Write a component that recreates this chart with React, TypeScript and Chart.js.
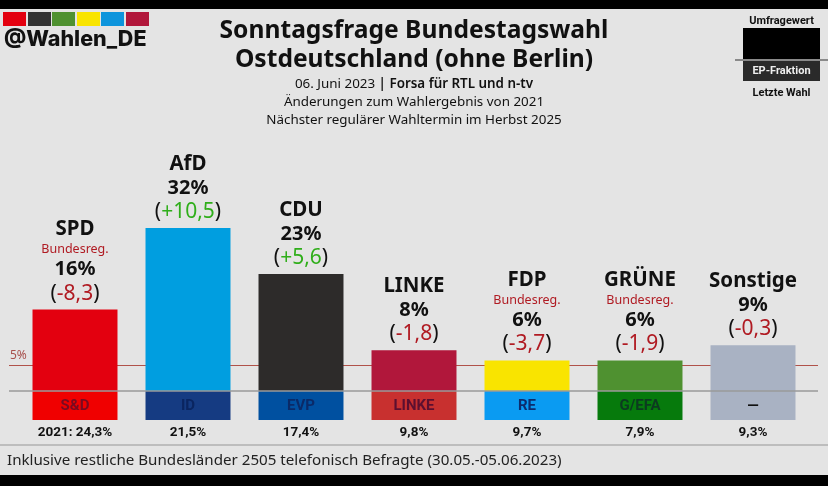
import { useEffect, useRef } from 'react';
import { Chart, registerables } from 'chart.js';
import type { Plugin } from 'chart.js';

Chart.register(...registerables);

const parties = ['SPD', 'AfD', 'CDU', 'LINKE', 'FDP', 'GRÜNE', 'Sonstige'];
const pollValues = [16, 32, 23, 8, 6, 6, 9];
const changes = ['-8,3', '+10,5', '+5,6', '-1,8', '-3,7', '-1,9', '-0,3'];
const inGovernment = [true, false, false, false, true, true, false];
const barColors = ['#e3000f', '#009ee0', '#2d2b2a', '#b1173b', '#f9e400', '#4f9130', '#a9b2c3'];
const factions = ['S&D', 'ID', 'EVP', 'LINKE', 'RE', 'G/EFA', '—'];
const factionBand = [-5.7, -5.7, -5.7, -5.7, -5.7, -5.7, -5.7];
const factionColors = ['#f00000', '#153b82', '#0050a0', '#c8302f', '#0a9bf2', '#067a0c', '#a9b2c3'];
const factionTextColors = ['#7a0a20', '#0a2560', '#0a2a68', '#5c0f30', '#0c2c6e', '#0c3a20', '#111111'];
const lastElection = ['2021: 24,3%', '21,5%', '17,4%', '9,8%', '9,7%', '7,9%', '9,3%'];
const logoColors = ['#e3000f', '#333333', '#4f9130', '#f9e400', '#0d94dc', '#b1173b'];
const threshold = 5;

const bodyFont = '"Noto Sans", sans-serif';
const numFont = 'Roboto, sans-serif';

const linesPlugin: Plugin<'bar'> = {
  id: 'lines',
  beforeDatasetsDraw(chart) {
    const { ctx, scales } = chart;
    // auf ganze Pixel legen, sonst wird die dünne Linie grau verwaschen
    const y = Math.round(scales.y.getPixelForValue(threshold)) - 0.5;
    ctx.save();
    ctx.strokeStyle = '#b0524a';
    ctx.lineWidth = 1;
    ctx.beginPath();
    ctx.moveTo(9, y);
    ctx.lineTo(818, y);
    ctx.stroke();
    ctx.fillStyle = '#a8504c';
    ctx.font = `12px ${bodyFont}`;
    ctx.textAlign = 'left';
    ctx.textBaseline = 'middle';
    ctx.fillText(`${threshold}%`, 10, y - 10);
    ctx.restore();
  },
  afterDatasetsDraw(chart) {
    const { ctx, scales } = chart;
    const y0 = scales.y.getPixelForValue(0);
    ctx.save();
    ctx.strokeStyle = '#9a9a9a';
    ctx.lineWidth = 1.5;
    ctx.beginPath();
    ctx.moveTo(9, y0);
    ctx.lineTo(818, y0);
    ctx.stroke();

    ctx.textAlign = 'center';
    ctx.textBaseline = 'middle';
    const bars = chart.getDatasetMeta(0).data;
    const bandBars = chart.getDatasetMeta(1).data;
    bars.forEach((bar, i) => {
      const x = bar.x;
      const top = bar.y;
      // Änderung in Klammern, Vorzeichen bestimmt die Farbe
      const change = changes[i];
      ctx.font = `21px ${bodyFont}`;
      const w = ctx.measureText(`(${change})`).width;
      const left = x - w / 2;
      ctx.textAlign = 'left';
      ctx.fillStyle = '#111111';
      ctx.fillText('(', left, top - 16);
      const pw = ctx.measureText('(').width;
      const cw = ctx.measureText(change).width;
      ctx.fillStyle = change[0] === '+' ? '#2fae1a' : '#b01a22';
      ctx.fillText(change, left + pw, top - 16);
      ctx.fillStyle = '#111111';
      ctx.fillText(')', left + pw + cw, top - 16);
      ctx.textAlign = 'center';

      ctx.font = `700 20px ${bodyFont}`;
      ctx.fillStyle = '#111111';
      ctx.fillText(`${pollValues[i]}%`, x, top - 40);

      let nameY = top - 64;
      if (inGovernment[i]) {
        ctx.font = `12.5px ${bodyFont}`;
        ctx.fillStyle = '#b01a22';
        ctx.fillText('Bundesreg.', x, top - 60);
        nameY = top - 80;
      }
      ctx.font = `700 20.5px ${bodyFont}`;
      ctx.fillStyle = '#111111';
      ctx.fillText(parties[i], x, nameY);

      const bandMid = (bandBars[i].y + y0) / 2;
      ctx.font = `700 15px ${numFont}`;
      ctx.fillStyle = factionTextColors[i];
      ctx.fillText(factions[i], x, bandMid + 0.5);

      ctx.font = `700 13.5px ${numFont}`;
      ctx.fillStyle = '#111111';
      ctx.fillText(lastElection[i], x, bandBars[i].y + 13);
    });
    ctx.restore();
  },
};

const center = (top: number, text: string, style: React.CSSProperties) => (
  <div
    style={{
      position: 'absolute',
      left: 0,
      width: 828,
      top,
      textAlign: 'center',
      whiteSpace: 'nowrap',
      color: '#111',
      ...style,
    }}
  >
    {text}
  </div>
);

export default function App() {
  const canvasRef = useRef<HTMLCanvasElement>(null);

  useEffect(() => {
    if (!canvasRef.current) return;
    const chart = new Chart(canvasRef.current, {
      type: 'bar',
      data: {
        labels: parties,
        datasets: [
          { data: pollValues, backgroundColor: barColors, stack: 'a' },
          { data: factionBand, backgroundColor: factionColors, stack: 'a' },
        ],
      },
      options: {
        animation: false,
        responsive: false,
        devicePixelRatio: 1,
        layout: { padding: { left: 18.5, right: 18.5, top: 9.2, bottom: 66 } },
        datasets: { bar: { categoryPercentage: 1, barPercentage: 0.752 } },
        plugins: { legend: { display: false }, tooltip: { enabled: false } },
        scales: {
          x: { display: false, stacked: true },
          y: { display: false, stacked: true, min: -5.7, max: 75 },
        },
      },
      plugins: [linesPlugin],
    });
    return () => chart.destroy();
  }, []);

  return (
    <div
      style={{
        position: 'fixed',
        left: 0,
        top: 0,
        width: 828,
        height: 486,
        background: '#e4e4e4',
        overflow: 'hidden',
        fontFamily: bodyFont,
      }}
    >
      <canvas ref={canvasRef} width={828} height={486} style={{ position: 'absolute', left: 0, top: 0 }} />
      <div style={{ position: 'absolute', left: 0, top: 0, width: 828, height: 9, background: '#000' }} />
      <div style={{ position: 'absolute', left: 0, top: 475, width: 828, height: 11, background: '#000' }} />
      <div style={{ position: 'absolute', left: 0, top: 444, width: 828, height: 2, background: '#bdbdbd' }} />

      {logoColors.map((c, i) => (
        <div
          key={c}
          style={{ position: 'absolute', left: 3 + i * 24.6, top: 12, width: 23, height: 14, background: c }}
        />
      ))}
      <div
        style={{
          position: 'absolute',
          left: 4,
          top: 25,
          fontFamily: 'Inter, sans-serif',
          fontWeight: 800,
          fontSize: 21.5,
          color: '#111',
          whiteSpace: 'nowrap',
        }}
      >
        @Wahlen_DE
      </div>

      {center(13, 'Sonntagsfrage Bundestagswahl', { fontSize: 24.6, fontWeight: 700, lineHeight: '32px' })}
      {center(42, 'Ostdeutschland (ohne Berlin)', { fontSize: 24.6, fontWeight: 700, lineHeight: '32px' })}
      <div
        style={{
          position: 'absolute',
          left: 0,
          width: 828,
          top: 74,
          textAlign: 'center',
          fontSize: 13.4,
          lineHeight: '18px',
          color: '#111',
        }}
      >
        06. Juni 2023 <b style={{ fontWeight: 600 }}>| Forsa für RTL und n-tv</b>
      </div>
      {center(92, 'Änderungen zum Wahlergebnis von 2021', { fontSize: 13.4, lineHeight: '18px' })}
      {center(110, 'Nächster regulärer Wahltermin im Herbst 2025', { fontSize: 13.4, lineHeight: '18px' })}

      <div style={{ position: 'absolute', left: 743, top: 28, width: 77, height: 32, background: '#000' }} />
      <div style={{ position: 'absolute', left: 743, top: 61, width: 77, height: 20, background: '#2a2a2a' }} />
      <div style={{ position: 'absolute', left: 735, top: 59, width: 93, height: 2, background: '#8a8a8a' }} />
      {[
        { t: 'Umfragewert', top: 13, c: '#111' },
        { t: 'EP-Fraktion', top: 63, c: '#eee' },
        { t: 'Letzte Wahl', top: 85, c: '#111' },
      ].map((l) => (
        <div
          key={l.t}
          style={{
            position: 'absolute',
            left: 735,
            width: 93,
            top: l.top,
            textAlign: 'center',
            fontFamily: numFont,
            fontWeight: 700,
            fontSize: 11,
            lineHeight: '15px',
            color: l.c,
          }}
        >
          {l.t}
        </div>
      ))}

      <div
        style={{
          position: 'absolute',
          left: 7,
          top: 449,
          fontSize: 15.15,
          lineHeight: '20px',
          color: '#222',
          whiteSpace: 'nowrap',
        }}
      >
        Inklusive restliche Bundesländer 2505 telefonisch Befragte (30.05.-05.06.2023)
      </div>
    </div>
  );
}
